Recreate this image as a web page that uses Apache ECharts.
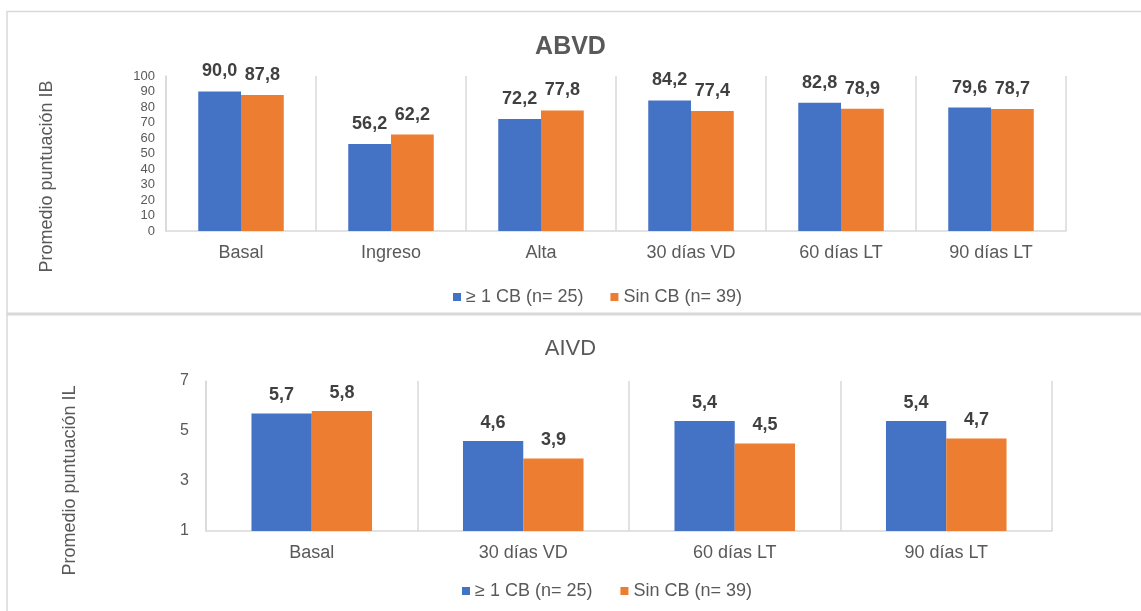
<!DOCTYPE html>
<html>
<head>
<meta charset="utf-8">
<script src="https://cdn.jsdelivr.net/npm/echarts@6/dist/echarts.min.js"></script>
<style>
html,body{margin:0;padding:0;background:#fff;}
#chart{width:1141px;height:611px;}
</style>
</head>
<body>
<div id="chart"></div>
<script>
// ---- Data ----
const seriesNames = ['≥ 1 CB (n= 25)', 'Sin CB (n= 39)'];

const abvdCategories = ['Basal', 'Ingreso', 'Alta', '30 días VD', '60 días LT', '90 días LT'];
const abvdWithCB = [90.0, 56.2, 72.2, 84.2, 82.8, 79.6];
const abvdWithoutCB = [87.8, 62.2, 77.8, 77.4, 78.9, 78.7];

const aivdCategories = ['Basal', '30 días VD', '60 días LT', '90 días LT'];
const aivdWithCB = [5.7, 4.6, 5.4, 5.4];
const aivdWithoutCB = [5.8, 3.9, 4.5, 4.7];

const abvdTitle = 'ABVD';
const aivdTitle = 'AIVD';
const abvdYName = 'Promedio puntuación IB';
const aivdYName = 'Promedio puntuación IL';

// ---- Styles ----
const FONT = '"Liberation Sans", Arial, sans-serif';
const BLUE = '#4472C4';
const ORANGE = '#ED7D31';
const GRID_LINE = '#d9d9d9';
const TEXT = '#595959';

const fmt = p => p.value.toFixed(1).replace('.', ',');
const barLabel = d => ({
  show: true, position: 'top', distance: d,
  formatter: fmt, color: '#404040', fontWeight: 'bold', fontSize: 18, fontFamily: FONT
});

function catAxis(gridIndex, data) {
  return {
    type: 'category', gridIndex, data,
    axisLine: { show: true, lineStyle: { color: GRID_LINE, width: 1.5 } },
    axisTick: { show: false },
    splitLine: { show: true, lineStyle: { color: GRID_LINE, width: 1.5 } },
    axisLabel: { color: TEXT, fontSize: 18, fontFamily: FONT, margin: 13, interval: 0 }
  };
}

const chart = echarts.init(document.getElementById('chart'));
chart.setOption({
  animation: false,
  textStyle: { fontFamily: FONT },
  title: [
    { text: abvdTitle, left: 'center', top: 35, padding: 0,
      textStyle: { fontSize: 25, fontWeight: 'bold', color: TEXT, fontFamily: FONT } },
    { text: aivdTitle, left: 'center', top: 338, padding: 0,
      textStyle: { fontSize: 22, fontWeight: 'normal', color: TEXT, fontFamily: FONT } }
  ],
  legend: [
    { data: seriesNames, left: 453, top: 288, padding: 0, itemWidth: 8, itemHeight: 8, itemGap: 27,
      icon: 'rect', textStyle: { color: TEXT, fontSize: 18, fontFamily: FONT } },
    { data: seriesNames, left: 462, top: 582, padding: 0, itemWidth: 8, itemHeight: 8, itemGap: 28,
      icon: 'rect', textStyle: { color: TEXT, fontSize: 18, fontFamily: FONT } }
  ],
  grid: [
    { left: 166, right: 75, top: 76, bottom: 380 },
    { left: 206, right: 89, top: 381, bottom: 80 }
  ],
  xAxis: [catAxis(0, abvdCategories), catAxis(1, aivdCategories)],
  yAxis: [
    { type: 'value', gridIndex: 0, min: 0, max: 100, interval: 10,
      name: abvdYName, nameLocation: 'middle', nameRotate: 90, nameGap: 110,
      nameTextStyle: { color: TEXT, fontSize: 18, fontFamily: FONT, padding: [0, 46, 0, 0] },
      axisLine: { show: true, lineStyle: { color: GRID_LINE, width: 1.5 } },
      axisTick: { show: false }, splitLine: { show: false },
      axisLabel: { color: TEXT, fontSize: 13, fontFamily: FONT, margin: 11 } },
    { type: 'value', gridIndex: 1, min: 1, max: 7, interval: 2,
      name: aivdYName, nameLocation: 'middle', nameRotate: 90, nameGap: 127,
      nameTextStyle: { color: TEXT, fontSize: 18, fontFamily: FONT, padding: [0, 49, 0, 0] },
      axisLine: { show: true, lineStyle: { color: GRID_LINE, width: 1.5 } },
      axisTick: { show: false }, splitLine: { show: false },
      axisLabel: { color: TEXT, fontSize: 16, fontFamily: FONT, margin: 17 } }
  ],
  series: [
    { name: seriesNames[0], type: 'bar', xAxisIndex: 0, yAxisIndex: 0, data: abvdWithCB,
      itemStyle: { color: BLUE }, barGap: '0%', barCategoryGap: '43%', label: barLabel(11) },
    { name: seriesNames[1], type: 'bar', xAxisIndex: 0, yAxisIndex: 0, data: abvdWithoutCB,
      itemStyle: { color: ORANGE }, barGap: '0%', barCategoryGap: '43%', label: barLabel(11) },
    { name: seriesNames[0], type: 'bar', xAxisIndex: 1, yAxisIndex: 1, data: aivdWithCB,
      itemStyle: { color: BLUE }, barGap: '0%', barCategoryGap: '43%', label: barLabel(9) },
    { name: seriesNames[1], type: 'bar', xAxisIndex: 1, yAxisIndex: 1, data: aivdWithoutCB,
      itemStyle: { color: ORANGE }, barGap: '0%', barCategoryGap: '43%', label: barLabel(9) }
  ],
  graphic: [
    { type: 'polyline', silent: true,
      shape: { points: [[7, 611], [7, 11.5], [1141, 11.5]] },
      style: { stroke: '#d9d9d9', lineWidth: 1.5, fill: null } },
    { type: 'rect', silent: true,
      shape: { x: 6.5, y: 312.5, width: 1140, height: 3 },
      style: { fill: '#d9d9d9' } }
  ]
});
</script>
</body>
</html>
